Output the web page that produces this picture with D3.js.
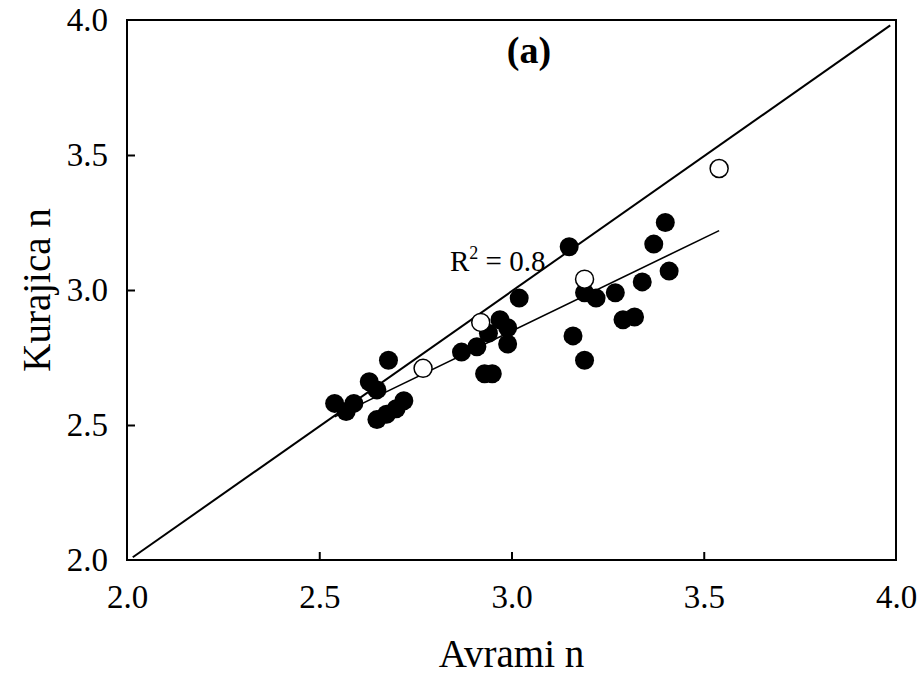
<!DOCTYPE html>
<html>
<head>
<meta charset="utf-8">
<script src="https://cdn.jsdelivr.net/npm/d3@7"></script>
<style>
  body { margin: 0; background: #fff; }
  text { font-family: "Liberation Serif", "Times New Roman", serif; fill: #000; }
</style>
</head>
<body>
<script>
// filled points (Avrami n, Kurajica n)
var filledX = [2.54, 2.59, 2.57, 2.63, 2.65, 2.68, 2.65, 2.675, 2.70, 2.72,
               2.87, 2.91, 2.94, 2.97, 2.99, 2.99, 2.93, 2.95, 3.02, 3.15,
               3.16, 3.19, 3.19, 3.22, 3.27, 3.29, 3.32, 3.34, 3.37, 3.40, 3.41];
var filledY = [2.58, 2.58, 2.55, 2.66, 2.63, 2.74, 2.52, 2.54, 2.56, 2.59,
               2.77, 2.79, 2.84, 2.89, 2.86, 2.80, 2.69, 2.69, 2.97, 3.16,
               2.83, 2.74, 2.99, 2.97, 2.99, 2.89, 2.90, 3.03, 3.17, 3.25, 3.07];

// open points
var openX = [2.77, 2.92, 3.19, 3.54];
var openY = [2.71, 2.88, 3.04, 3.45];

// 1:1 line and fitted line end points
var lineX = [2.015, 3.985];
var lineY = [2.01, 3.98];
var fitX = [2.54, 3.54];
var fitY = [2.53, 3.22];

var tickVals = [2.0, 2.5, 3.0, 3.5, 4.0];
var fitLabel = "0.8";

var margin = {top: 20, right: 27, bottom: 119, left: 127},
    width = 923 - margin.left - margin.right,
    height = 679 - margin.top - margin.bottom;

var svg = d3.select("body").append("svg")
    .attr("width", 923)
    .attr("height", 679);

var g = svg.append("g")
    .attr("transform", "translate(" + margin.left + "," + margin.top + ")");

var x = d3.scaleLinear().domain([2, 4]).range([0, width]);
var y = d3.scaleLinear().domain([2, 4]).range([height, 0]);

// frame
g.append("rect")
    .attr("width", width)
    .attr("height", height)
    .attr("fill", "none")
    .attr("stroke", "#000")
    .attr("stroke-width", 2);

// axes with inward ticks
var xAxis = g.append("g")
    .attr("transform", "translate(0," + height + ")")
    .call(d3.axisBottom(x).tickValues(tickVals).tickSize(-8)
        .tickFormat(d3.format(".1f")));
var yAxis = g.append("g")
    .call(d3.axisLeft(y).tickValues(tickVals).tickSize(-8)
        .tickFormat(d3.format(".1f")));

[xAxis, yAxis].forEach(function (a) {
    a.select(".domain").remove();
    a.selectAll("line").attr("stroke", "#000").attr("stroke-width", 2);
    a.selectAll("text")
        .style("font-family", "'Liberation Serif', 'Times New Roman', serif")
        .style("font-size", "33px")
        .attr("fill", "#000");
});
xAxis.selectAll("text").attr("y", 25).attr("dy", "0.71em");
yAxis.selectAll("text").attr("x", -19).attr("dy", "0.33em");
// no tick marks on the frame corners
xAxis.selectAll(".tick line").filter(function (d) { return d === 2 || d === 4; }).remove();
yAxis.selectAll(".tick line").filter(function (d) { return d === 2 || d === 4; }).remove();

var line = d3.line()
    .x(function (d) { return x(d[0]); })
    .y(function (d) { return y(d[1]); });

g.append("path")
    .datum(d3.zip(lineX, lineY))
    .attr("d", line)
    .attr("fill", "none")
    .attr("stroke", "#000")
    .attr("stroke-width", 2);

g.append("path")
    .datum(d3.zip(fitX, fitY))
    .attr("d", line)
    .attr("fill", "none")
    .attr("stroke", "#000")
    .attr("stroke-width", 1.6);

g.selectAll(".filled")
    .data(d3.zip(filledX, filledY))
    .enter().append("circle")
    .attr("class", "filled")
    .attr("cx", function (d) { return x(d[0]); })
    .attr("cy", function (d) { return y(d[1]); })
    .attr("r", 9.5)
    .attr("fill", "#000");

g.selectAll(".open")
    .data(d3.zip(openX, openY))
    .enter().append("circle")
    .attr("class", "open")
    .attr("cx", function (d) { return x(d[0]); })
    .attr("cy", function (d) { return y(d[1]); })
    .attr("r", 9)
    .attr("fill", "#fff")
    .attr("stroke", "#000")
    .attr("stroke-width", 1.5);

// labels
var r2 = g.append("text")
    .attr("x", 450 - margin.left)
    .attr("y", 271 - margin.top)
    .style("font-size", "29px");
r2.append("tspan").text("R");
r2.append("tspan").attr("dy", -12).style("font-size", "18px").text("2");
r2.append("tspan").attr("dy", 12).text(" = " + fitLabel);

svg.append("text")
    .attr("x", 529)
    .attr("y", 63)
    .attr("text-anchor", "middle")
    .style("font-size", "38px")
    .style("font-weight", "bold")
    .text("(a)");

svg.append("text")
    .attr("x", margin.left + width / 2)
    .attr("y", 667)
    .attr("text-anchor", "middle")
    .style("font-size", "39px")
    .text("Avrami n");

svg.append("text")
    .attr("transform", "translate(50," + (margin.top + height / 2) + ") rotate(-90)")
    .attr("text-anchor", "middle")
    .style("font-size", "39px")
    .text("Kurajica n");
</script>
</body>
</html>
